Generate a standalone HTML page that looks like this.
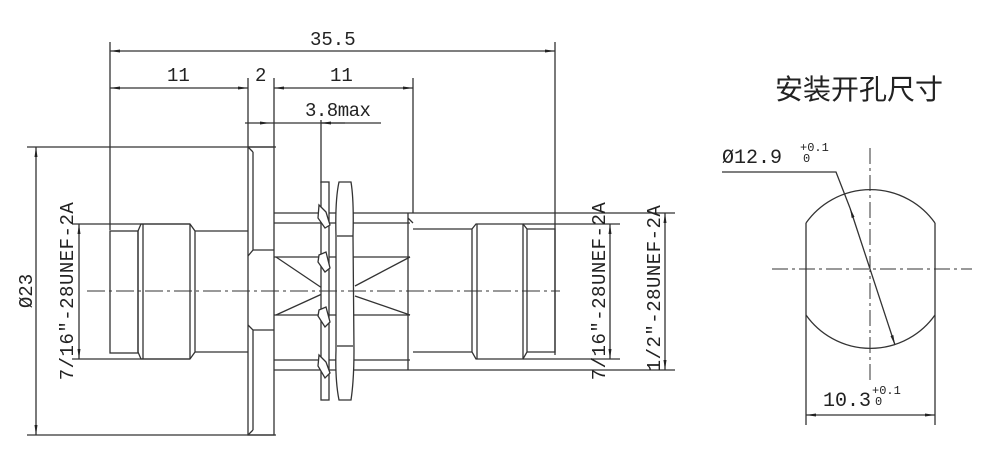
<!DOCTYPE html>
<html><head><meta charset="utf-8"><style>
html,body{margin:0;padding:0;background:#fff;}
svg{display:block;}
text{font-family:"Liberation Mono","Noto Serif CJK SC",monospace;fill:#222;}
</style></head><body>
<svg width="1000" height="467" viewBox="0 0 1000 467" xmlns="http://www.w3.org/2000/svg">
<defs>
<marker id="a" viewBox="0 0 10 4" refX="10" refY="2" markerWidth="10" markerHeight="4" orient="auto-start-reverse" markerUnits="userSpaceOnUse"><path d="M0,0.5 L10,2 L0,3.5z" fill="#222"/></marker>
</defs>
<g stroke="#333" stroke-width="1.3" fill="none">
<line x1="110" y1="42" x2="110" y2="230"/>
<line x1="555" y1="42" x2="555" y2="355"/>
<line x1="110" y1="51" x2="555" y2="51" marker-start="url(#a)" marker-end="url(#a)"/>
<line x1="248" y1="78" x2="248" y2="147"/>
<line x1="274" y1="78" x2="274" y2="147"/>
<line x1="413" y1="78" x2="413" y2="213"/>
<line x1="110" y1="88" x2="248" y2="88" marker-start="url(#a)" marker-end="url(#a)"/>
<line x1="274" y1="88" x2="413" y2="88" marker-start="url(#a)" marker-end="url(#a)"/>
<line x1="245" y1="123" x2="270" y2="123" marker-end="url(#a)"/>
<line x1="270" y1="123" x2="381" y2="123"/>
<line x1="345" y1="123" x2="321" y2="123" marker-end="url(#a)"/>
<line x1="321" y1="120" x2="321" y2="183"/>
<line x1="27" y1="147" x2="276" y2="147"/>
<line x1="27" y1="435" x2="276" y2="435"/>
<line x1="36" y1="147" x2="36" y2="435" marker-start="url(#a)" marker-end="url(#a)"/>
<line x1="72" y1="224" x2="190" y2="224"/>
<line x1="72" y1="359" x2="190" y2="359"/>
<line x1="79" y1="224" x2="79" y2="359" marker-start="url(#a)" marker-end="url(#a)"/>
<rect x="110" y="231" width="28" height="122"/>
<path d="M138,231 L141,224 L190,224 L195,231 L195,352 L190,359 L141,359 L138,352Z"/>
<line x1="143" y1="224" x2="143" y2="359"/>
<line x1="190" y1="224" x2="190" y2="359"/>
<line x1="195" y1="231" x2="248" y2="231"/>
<line x1="195" y1="352" x2="248" y2="352"/>
<rect x="248" y="147" width="26" height="288"/>
<path d="M253,152 L253,250 L248,256 M253,430 L253,330 L248,325 M253,152 L248,147 M253,430 L248,435"/>
<line x1="253" y1="250" x2="274" y2="250"/>
<line x1="253" y1="330" x2="274" y2="330"/>
<line x1="274" y1="213" x2="675" y2="213"/>
<line x1="274" y1="370" x2="675" y2="370"/>
<line x1="274" y1="223" x2="410" y2="223"/>
<line x1="274" y1="360" x2="410" y2="360"/>
<line x1="274" y1="257" x2="410" y2="257"/>
<line x1="274" y1="315" x2="410" y2="315"/>
<line x1="276" y1="257" x2="322" y2="288"/>
<line x1="276" y1="315" x2="322" y2="294"/>
<line x1="410" y1="257" x2="355" y2="286"/>
<line x1="410" y1="315" x2="355" y2="296"/>
<path d="M408,213 L408,370 M408,218 L413,223"/>
<rect x="321" y="182" width="8" height="218" fill="#fff"/>
<path d="M319,205 L326,212 L330,225 L325,228 L318,218Z M319,255 L326,252 L330,268 L325,272 L318,262Z M319,310 L326,307 L330,322 L325,327 L318,316Z M319,355 L326,362 L330,373 L325,378 L318,366Z" fill="#fff"/>
<path d="M339,182 L351,182 Q354,200 353,236 L354,350 Q354,380 351,400 L339,400 Q335,380 336,350 L336,236 Q335,200 339,182Z" fill="#fff"/>
<line x1="337" y1="236" x2="353" y2="236"/>
<line x1="337" y1="346" x2="353" y2="346"/>
<line x1="413" y1="229" x2="472" y2="229"/>
<line x1="413" y1="352" x2="472" y2="352"/>
<path d="M472,229 L476,224 L523,224 L527,229 L527,352 L523,359 L476,359 L472,352Z"/>
<line x1="477" y1="224" x2="477" y2="359"/>
<line x1="523" y1="224" x2="523" y2="359"/>
<path d="M527,229 L555,229 L555,352 L527,352"/>
<line x1="523" y1="224" x2="620" y2="224"/>
<line x1="523" y1="359" x2="620" y2="359"/>
<line x1="610" y1="224" x2="610" y2="359" marker-start="url(#a)" marker-end="url(#a)"/>
<line x1="665" y1="213" x2="665" y2="370" marker-start="url(#a)" marker-end="url(#a)"/>
<line x1="87" y1="291" x2="560" y2="291" stroke-width="1" stroke-dasharray="18,4,3,4"/>
<line x1="870" y1="148" x2="870" y2="380" stroke-width="1" stroke-dasharray="16,4,3,4"/>
<line x1="772" y1="269" x2="972" y2="269" stroke-width="1" stroke-dasharray="16,4,3,4"/>
<path d="M806,223 A79,79 0 0 1 935,223 M806,315 A79,79 0 0 0 935,315"/>
<line x1="806" y1="223" x2="806" y2="425"/>
<line x1="935" y1="223" x2="935" y2="425"/>
<line x1="806" y1="415" x2="935" y2="415" marker-start="url(#a)" marker-end="url(#a)"/>
<polyline points="722,172 836,172 850,208"/>
<line x1="850" y1="208" x2="895" y2="345" marker-start="url(#a)" marker-end="url(#a)"/>
</g>
<g font-size="19">
<text x="310" y="45">35.5</text>
<text x="167" y="81">11</text>
<text x="255" y="81">2</text>
<text x="330" y="81">11</text>
<text x="305" y="116" letter-spacing="-0.5">3.8max</text>
<text transform="translate(32,291) rotate(-90)" text-anchor="middle">Ø23</text>
<text transform="translate(73,291) rotate(-90)" text-anchor="middle" letter-spacing="0.5">7/16″-28UNEF-2A</text>
<text transform="translate(605,291) rotate(-90)" text-anchor="middle" letter-spacing="0.5">7/16″-28UNEF-2A</text>
<text transform="translate(660,288) rotate(-90)" text-anchor="middle" letter-spacing="0.5">1/2″-28UNEF-2A</text>
<text x="722" y="163" font-size="20">Ø12.9</text>
<text x="823" y="406" font-size="20">10.3</text>
</g>
<g font-size="12">
<text x="800" y="151">+0.1</text><text x="803" y="162">0</text>
<text x="872" y="394">+0.1</text><text x="875" y="405">0</text>
</g>
<text x="775" y="99" font-size="28" style="font-family:'Liberation Sans','Noto Sans CJK SC',sans-serif">安装开孔尺寸</text>
</svg>
</body></html>
